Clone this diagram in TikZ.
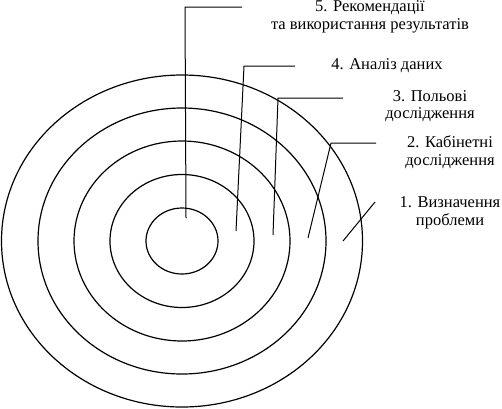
\documentclass[tikz,border=0pt]{standalone}
\usepackage{fontspec}
\setmainfont{Liberation Serif}
\begin{document}
\begin{tikzpicture}[x=1pt,y=-1pt,
  ring/.style={line width=1.2pt},
  leader/.style={line width=1pt},
  lab/.style={font=\fontsize{16.5}{17.5}\selectfont, align=center, inner sep=0pt}]
\useasboundingbox (0,0) rectangle (502,408);
% concentric rings
\foreach \rx/\ry in {36/33,72/66.5,108/100,144/133,180.5/166}
  \draw[ring] (182,241) ellipse [x radius=\rx, y radius=\ry];
% labels
\node[lab] (t5) at (370,17) {5. Рекомендації\\та використання результатів};
\node[lab] (t4) at (387,66) {4. Аналіз даних};
\node[lab] (t3) at (430,106) {3. Польові\\дослідження};
\node[lab] (t2) at (450,152) {2. Кабінетні\\дослідження};
\node[lab] (t1) at (450,213) {1. Визначення\\проблеми};
% leader points
\coordinate (e5) at (186,218); \coordinate (c5) at (185,7);   \coordinate (h5) at (242,7);
\coordinate (e4) at (236,231); \coordinate (c4) at (244,66);  \coordinate (h4) at (295,66);
\coordinate (e3) at (273,235); \coordinate (c3) at (278,98);  \coordinate (h3) at (343,98);
\coordinate (e2) at (308,238); \coordinate (c2) at (331,143); \coordinate (h2) at (376,143);
\coordinate (e1) at (343,241); \coordinate (c1) at (375,202);
\draw[leader] (e5) -- (c5) -- (h5);
\draw[leader] (e4) -- (c4) -- (h4);
\draw[leader] (e3) -- (c3) -- (h3);
\draw[leader] (e2) -- (c2) -- (h2);
\draw[leader] (e1) -- (c1);
\end{tikzpicture}
\end{document}
